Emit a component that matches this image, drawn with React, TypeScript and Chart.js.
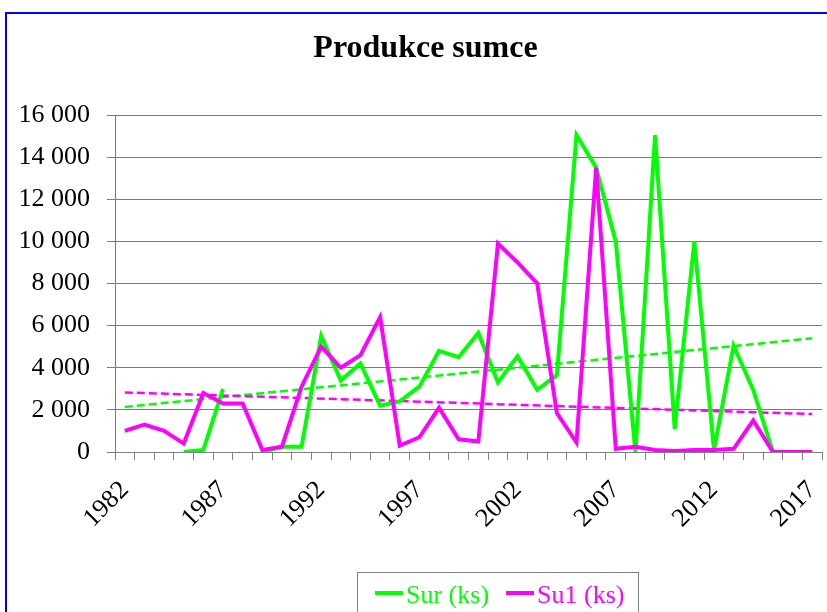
import React, { useEffect, useRef } from 'react';
import { Chart, registerables } from 'chart.js';

Chart.register(...registerables);

const years = [
  '1982', '1983', '1984', '1985', '1986', '1987', '1988', '1989', '1990', '1991',
  '1992', '1993', '1994', '1995', '1996', '1997', '1998', '1999', '2000', '2001',
  '2002', '2003', '2004', '2005', '2006', '2007', '2008', '2009', '2010', '2011',
  '2012', '2013', '2014', '2015', '2016', '2017',
];

const sur: (number | null)[] = [
  null, null, null, 0, 100, 3000, null, 0, 250, 250,
  5500, 3400, 4200, 2200, 2400, 3100, 4800, 4500, 5650, 3300,
  4550, 2950, 3650, 15050, 13500, 10000, 0, 15050, 1100, 10000,
  100, 5050, 2950, 0, null, null,
];

const su1: (number | null)[] = [
  1000, 1300, 1000, 400, 2800, 2300, 2300, 100, 250, 3100,
  5000, 4000, 4600, 6400, 300, 700, 2100, 600, 500, 9900,
  9000, 8000, 1850, 450, 13500, 150, 250, 100, 50, 100,
  100, 150, 1500, 0, 0, 0,
];

// linear trendline end values (first / last category)
const trendSur = [2140, 5400];
const trendSu1 = [2830, 1800];

const yTicks = [0, 2000, 4000, 6000, 8000, 10000, 12000, 14000, 16000];

const GREEN = '#00ff00';
const MAGENTA = '#ff00ff';
const SERIF = "'Liberation Serif', 'Times New Roman', serif";

const fmt = (v: number) => {
  if (v < 1000) return String(v);
  return `${Math.floor(v / 1000)} ${String(v % 1000).padStart(3, '0')}`;
};

const trendData = (ends: number[]) =>
  years.map((_, i) => (i === 0 ? ends[0] : i === years.length - 1 ? ends[1] : null));

const legendItems = [
  { text: 'Sur (ks)', color: GREEN },
  { text: 'Su1 (ks)', color: MAGENTA },
];

// shift the title's box so it is centred like the reference
const titleBoxPlugin = {
  id: 'titleBox',
  afterLayout(chart: any) {
    const t = chart.titleBlock;
    if (t) {
      t.left = 29;
      t.right = 822;
      t.width = t.right - t.left;
    }
  },
};

const boxLegendPlugin = {
  id: 'boxLegend',
  afterDraw(chart: any) {
    const ctx = chart.ctx as CanvasRenderingContext2D;
    const left = 357;
    const top = 572;
    const lineW = 28;
    const gapText = 3;
    const gapItem = 17;
    const padX = 18;
    ctx.save();
    ctx.font = `26px ${SERIF}`;
    let width = padX;
    const widths = legendItems.map((it) => ctx.measureText(it.text).width);
    widths.forEach((w, i) => {
      width += lineW + gapText + w + (i < widths.length - 1 ? gapItem : 0);
    });
    width += 14;
    ctx.strokeStyle = '#808080';
    ctx.lineWidth = 1;
    ctx.strokeRect(left + 0.5, top + 0.5, Math.round(width), 80);
    let x = left + padX;
    const yLine = 593;
    legendItems.forEach((it, i) => {
      ctx.strokeStyle = it.color;
      ctx.lineWidth = 4;
      ctx.beginPath();
      ctx.moveTo(x, yLine);
      ctx.lineTo(x + lineW, yLine);
      ctx.stroke();
      x += lineW + gapText;
      ctx.fillStyle = it.color;
      ctx.textBaseline = 'alphabetic';
      ctx.textAlign = 'left';
      ctx.fillText(it.text, x, 603);
      x += widths[i] + gapItem;
    });
    ctx.restore();
  },
};

export default function App() {
  const ref = useRef<HTMLCanvasElement | null>(null);

  useEffect(() => {
    if (!ref.current) return;
    const chart = new Chart(ref.current, {
      type: 'line',
      data: {
        labels: years,
        datasets: [
          {
            label: 'Su1 (ks)',
            data: su1,
            borderColor: MAGENTA,
            backgroundColor: MAGENTA,
            borderWidth: 4,
            pointRadius: 0,
            tension: 0,
            spanGaps: false,
          },
          {
            label: 'Sur (ks)',
            data: sur,
            borderColor: GREEN,
            backgroundColor: GREEN,
            borderWidth: 4,
            pointRadius: 0,
            tension: 0,
            spanGaps: false,
          },
          {
            label: 'trend Su1',
            data: trendData(trendSu1),
            borderColor: MAGENTA,
            borderWidth: 2.5,
            borderDash: [8, 4],
            pointRadius: 0,
            spanGaps: true,
          },
          {
            label: 'trend Sur',
            data: trendData(trendSur),
            borderColor: GREEN,
            borderWidth: 2.5,
            borderDash: [8, 4],
            pointRadius: 0,
            spanGaps: true,
          },
        ],
      },
      options: {
        animation: false,
        responsive: false,
        maintainAspectRatio: false,
        layout: { padding: { left: 0, right: 5, top: 0, bottom: 80 } },
        plugins: {
          legend: { display: false },
          tooltip: { enabled: false },
          title: {
            display: true,
            text: 'Produkce sumce',
            color: '#000',
            font: { family: SERIF, size: 32, weight: 'bold' },
            padding: { top: 30, bottom: 46.6 },
          },
        },
        scales: {
          x: {
            type: 'category',
            offset: true,
            grid: {
              offset: true,
              drawOnChartArea: false,
              drawTicks: true,
              tickLength: 8,
              color: '#808080',
            },
            border: { color: '#808080' },
            ticks: {
              autoSkip: false,
              maxRotation: 45,
              minRotation: 45,
              padding: 15,
              color: '#000',
              font: { family: SERIF, size: 26 },
              callback: (_v: any, i: number) => (i % 5 === 0 ? years[i] : ''),
            },
            afterFit: (s: any) => {
              s.height = 80;
              s.paddingLeft = 0;
              s.paddingRight = 0;
            },
          },
          y: {
            min: 0,
            max: 16000,
            afterBuildTicks: (s: any) => {
              s.ticks = yTicks.map((v) => ({ value: v }));
            },
            ticks: {
              padding: 17,
              color: '#000',
              font: { family: SERIF, size: 26 },
              callback: (v: any) => fmt(Number(v)),
            },
            grid: { color: '#7a7a7a', tickLength: 8 },
            border: { color: '#7a7a7a' },
            afterFit: (s: any) => {
              s.width = 115;
              s.paddingTop = 0;
              s.paddingBottom = 0;
            },
          },
        },
      },
      plugins: [titleBoxPlugin, boxLegendPlugin],
    });
    return () => chart.destroy();
  }, []);

  return (
    <div style={{ position: 'absolute', left: 0, top: 0, width: 827, height: 612, overflow: 'hidden', background: '#fff' }}>
      <div
        style={{
          position: 'absolute',
          left: 5,
          top: 12,
          width: 900,
          height: 700,
          border: '2px solid #0000ff',
        }}
      />
      <canvas ref={ref} width={827} height={612} style={{ position: 'absolute', left: 0, top: 0 }} />
    </div>
  );
}
